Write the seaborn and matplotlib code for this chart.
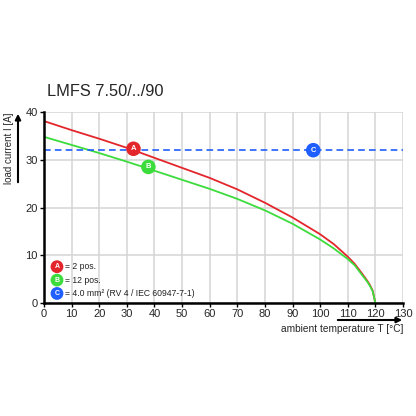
import numpy as np
import pandas as pd
import seaborn as sns
import matplotlib
matplotlib.use("Agg")
import matplotlib.pyplot as plt

# values
temps = [0, 10, 20, 30, 40, 50, 60, 70, 80, 90, 100, 105, 110, 112.5, 115, 117, 118, 119, 120]
current_2pos = [38.1, 36.2, 34.4, 32.5, 30.4, 28.3, 26.2, 23.8, 21.0, 17.9, 14.4, 12.3, 9.7,
                8.2, 6.3, 4.7, 3.8, 2.6, 0]
current_12pos = [34.8, 33.1, 31.4, 29.6, 27.7, 25.8, 23.9, 21.8, 19.4, 16.6, 13.3, 11.4, 9.2,
                 7.9, 6.0, 4.5, 3.6, 2.5, 0]
wire_limit = 32.0

labels = ["A", "B", "C"]
marker_x = [32.4, 37.8, 97.5]
marker_y = [32.3, 28.5, 32.0]
legend_text = ["= 2 pos.", "= 12 pos.", "= 4.0 mm² (RV 4 / IEC 60947-7-1)"]

red = "#e3262b"
green = "#3cdc3c"
blue = "#1f5fff"
colors = [red, green, blue]

sns.set_style("whitegrid")
plt.rcParams["font.family"] = ["Liberation Sans", "DejaVu Sans"]

df = pd.DataFrame({"T": temps + temps,
                   "I": current_2pos + current_12pos,
                   "series": ["2 pos."] * len(temps) + ["12 pos."] * len(temps)})

fig = plt.figure(figsize=(4.16, 4.16), dpi=100)
ax = fig.add_axes([44 / 416, 1 - 303 / 416, 359 / 416, 191 / 416])

sns.lineplot(data=df, x="T", y="I", hue="series", palette=[red, green],
             linewidth=1.3, ax=ax, legend=False, zorder=3)
ax.axhline(wire_limit, color=blue, linestyle=(0, (4, 2.5)), linewidth=1.2, zorder=3)

# circle markers with letters
for lab, mx, my, c in zip(labels, marker_x, marker_y, colors):
    ax.scatter(mx, my, s=110, color=c, zorder=5, edgecolor="none")
    ax.text(mx, my, lab, color="white", fontsize=5.5, fontweight="bold",
            ha="center", va="center", zorder=6)

# legend block
for i, (lab, txt, c) in enumerate(zip(labels, legend_text, colors)):
    yy = 7.6 - i * 2.8
    ax.scatter(4.7, yy, s=85, color=c, zorder=5, edgecolor="none", clip_on=False)
    ax.text(4.7, yy, lab, color="white", fontsize=5, fontweight="bold",
            ha="center", va="center", zorder=6)
    ax.text(7.6, yy, txt, fontsize=6.2, ha="left", va="center", color="#222222")

ax.set_xlim(0, 130)
ax.set_ylim(0, 40)
ax.set_xticks(range(0, 131, 10))
ax.set_yticks(range(0, 41, 10))
ax.grid(True, color="#d4d4d4", linewidth=1.1)
ax.set_xlabel("")
ax.set_ylabel("")
ax.tick_params(axis="both", labelsize=8, length=3, width=1, color="black",
               direction="out", pad=1.5)
ax.tick_params(axis="x", bottom=True)
ax.tick_params(axis="y", left=True)

for side in ["top", "right"]:
    ax.spines[side].set_visible(False)
for side in ["left", "bottom"]:
    ax.spines[side].set_color("black")
    ax.spines[side].set_linewidth(1.8)
    ax.spines[side].set_zorder(4)

# title and axis labels with arrows
fig.text(47 / 416, 1 - 92 / 416, "LMFS 7.50/../90", fontsize=11.8, ha="left", va="center")
fig.text(9 / 416, 1 - 148 / 416, "load current I [A]", fontsize=7, rotation=90,
         ha="center", va="center")
fig.add_artist(matplotlib.patches.FancyArrowPatch(
    (18 / 416, 1 - 185 / 416), (18 / 416, 1 - 111 / 416), transform=fig.transFigure,
    arrowstyle="-|>", mutation_scale=8, color="black", linewidth=1.5))
fig.text(403 / 416, 1 - 329 / 416, "ambient temperature T [°C]", fontsize=7.3,
         ha="right", va="center")
fig.add_artist(matplotlib.patches.FancyArrowPatch(
    (335 / 416, 1 - 320 / 416), (405 / 416, 1 - 320 / 416), transform=fig.transFigure,
    arrowstyle="-|>", mutation_scale=8, color="black", linewidth=1.5))

fig.savefig("out.png", dpi=100, facecolor="white")
